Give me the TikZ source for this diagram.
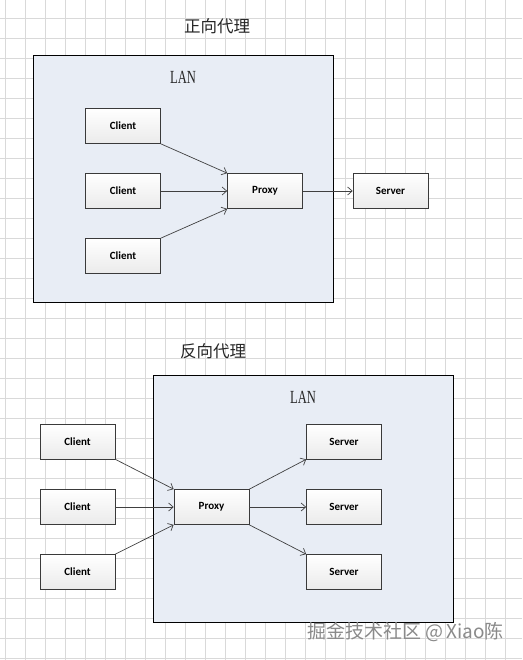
\documentclass[tikz,border=0pt]{standalone}
\usepackage{fontspec}
\usetikzlibrary{arrows.meta,calc}
\newfontfamily\cjkfont{Noto Sans CJK SC}
\newfontfamily\boxfont{Carlito}
\newfontfamily\lanfont[FakeStretch=0.68]{Liberation Serif}
\definecolor{gridc}{HTML}{D9D9D9}
\definecolor{lanfill}{HTML}{E8EDF5}
\definecolor{boxline}{HTML}{3A3A3A}
\definecolor{arrowc}{HTML}{404040}
\definecolor{wmc}{HTML}{8A8A8A}
\tikzset{
  lanbox/.style={draw=black, line width=1pt, fill=lanfill},
  itembox/.style={draw=boxline, line width=0.7pt, top color=white, bottom color=black!8,
    minimum width=75pt, minimum height=35pt, inner sep=0pt,
    font=\boxfont\bfseries\fontsize{11}{12}\selectfont},
  conn/.style={draw=arrowc, line width=0.7pt, -{Straight Barb[length=4.5pt,width=8pt]}},
  titletext/.style={font=\cjkfont\fontsize{16.5}{18}\selectfont, text=black!85},
  lantext/.style={font=\lanfont\fontsize{18.5}{20}\selectfont, text=black!85},
}
\begin{document}
\begin{tikzpicture}[x=1pt,y=-1pt]
\useasboundingbox (0,0) rectangle (522,660);
\fill[white] (0,0) rectangle (522,660);
% grid
\foreach \gx in {5,25,...,505} \draw[gridc, line width=0.8pt] (\gx,0) -- (\gx,660);
\foreach \gy in {18,38,...,658} \draw[gridc, line width=0.8pt] (0,\gy) -- (522,\gy);

% ---------- forward proxy ----------
\node[titletext] (t1) at (217,26) {正向代理};
\draw[lanbox] (33.5,55.5) rectangle (333,302.5);
\node[lantext] (lan1) at (183,77) {LAN};
\node[itembox] (fc1) at (123,126) {Client};
\node[itembox] (fc2) at (123,191) {Client};
\node[itembox] (fc3) at (123,256) {Client};
\node[itembox] (fp) at (265,191) {Proxy};
\node[itembox] (fs) at (390.5,191) {Server};
\draw[conn] (fc1.south east) -- (fp.north west);
\draw[conn] (fc2.east) -- (fp.west);
\draw[conn] (fc3.north east) -- (fp.south west);
\draw[conn] (fp.east) -- (fs.west);

% ---------- reverse proxy ----------
\node[titletext] (t2) at (213,351) {反向代理};
\draw[lanbox] (153.5,375.5) rectangle (453,622.5);
\node[lantext] (lan2) at (303,397) {LAN};
\node[itembox] (rc1) at (77.5,441.5) {Client};
\node[itembox] (rc2) at (77.5,507) {Client};
\node[itembox] (rc3) at (77.5,572) {Client};
\node[itembox] (rp) at (211.5,507) {Proxy};
\node[itembox] (rs1) at (344,441.5) {Server};
\node[itembox] (rs2) at (344,507) {Server};
\node[itembox] (rs3) at (344,572) {Server};
\draw[conn] (rc1.south east) -- (rp.north west);
\draw[conn] (rc2.east) -- (rp.west);
\draw[conn] (rc3.north east) -- (rp.south west);
\draw[conn] (rp.north east) -- (rs1.south west);
\draw[conn] (rp.east) -- (rs2.west);
\draw[conn] (rp.south east) -- (rs3.north west);

% watermark
\node[font=\cjkfont\fontsize{19}{21}\selectfont, text=wmc, anchor=east, inner sep=0pt] (wm) at (504,632) {掘金技术社区 @\,Xiao陈};
\end{tikzpicture}
\end{document}
